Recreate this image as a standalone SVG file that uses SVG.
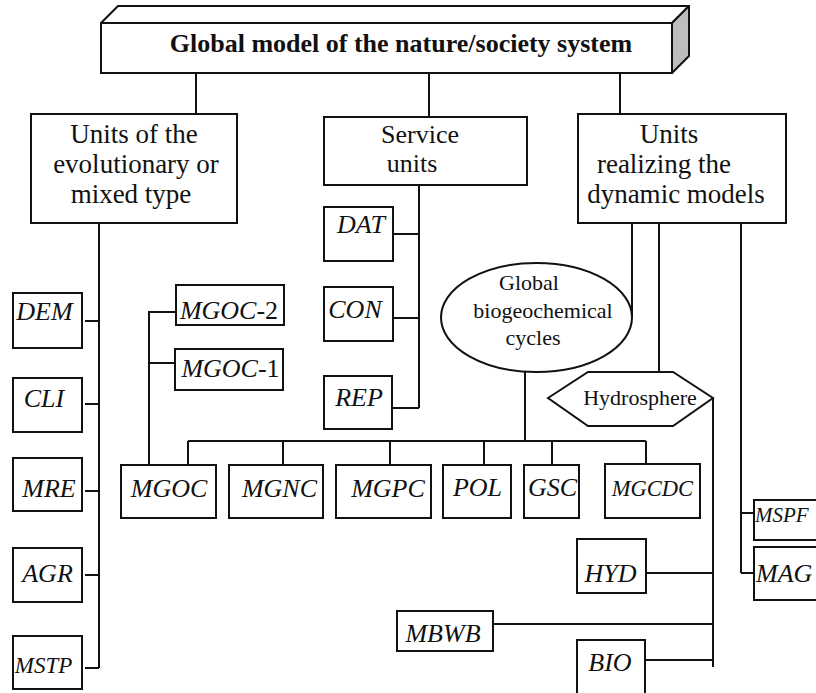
<svg xmlns="http://www.w3.org/2000/svg" width="816" height="693" viewBox="0 0 816 693">
<style>
.bx{fill:#fff;stroke:#111;stroke-width:2}
.ln{fill:none;stroke:#111;stroke-width:2}
.t{font-family:"Liberation Serif","Times New Roman",serif;fill:#111;text-anchor:middle}
.st{text-anchor:start}
.big{font-size:27px}
.it{font-size:26px;font-style:italic}
.up{font-style:normal}
</style>
<rect width="816" height="693" fill="#fff"/>
<g id="connectors">
<path class="ln" d="M196,73V114M429,73V117M620,73V114"/>
<path class="ln" d="M99,223V668M85,321H99M85,404H99M85,491H99M85,575H99M85,668H99"/>
<path class="ln" d="M419,185V408M393,234H419M393,318H419M392,408H419"/>
<path class="ln" d="M632,223V318M659,223V372M741,223V573M741,513H754M741,573H754"/>
<path class="ln" d="M525,363V441M188,441H646M188,441V465M283,441V465M390,441V465M484,441V465M552,441V465M646,441V464"/>
<path class="ln" d="M149,465V312H176M149,363H175"/>
<path class="ln" d="M713,398V667M646,573H713M493,624H713M645,660H713"/>
</g>
<g id="global">
<polygon points="101,23 118,6 689,6 672,23" fill="#fff" stroke="#111" stroke-width="2" stroke-linejoin="round"/>
<polygon points="672,23 689,6 689,56 672,73" fill="#bdbdbd" stroke="#111" stroke-width="2" stroke-linejoin="round"/>
<rect class="bx" x="101" y="23" width="571" height="50"/>
<text class="t" x="401" y="52" font-size="26" font-weight="bold">Global model of the nature/society system</text>
</g>
<g id="evolutionary">
<rect class="bx" x="31" y="114" width="206" height="109"/>
<text class="t big" x="134" y="143">Units of the</text>
<text class="t big" x="136" y="173">evolutionary or</text>
<text class="t big" x="131" y="203">mixed type</text>
</g>
<g id="service">
<rect class="bx" x="324" y="117" width="203" height="68"/>
<text class="t" x="420" y="143" font-size="26">Service</text>
<text class="t" x="412" y="172" font-size="26">units</text>
</g>
<g id="dynamic">
<rect class="bx" x="578" y="114" width="208" height="109"/>
<text class="t big" x="669" y="143">Units</text>
<text class="t big" x="664" y="173">realizing the</text>
<text class="t big" x="676" y="203">dynamic models</text>
</g>
<g id="DEM"><rect class="bx" x="13" y="293" width="69" height="55"/><text class="t it" x="44.5" y="320">DEM</text></g>
<g id="CLI"><rect class="bx" x="13" y="378" width="69" height="54"/><text class="t it" x="44" y="407">CLI</text></g>
<g id="MRE"><rect class="bx" x="13" y="458" width="69" height="53"/><text class="t it" x="49" y="497">MRE</text></g>
<g id="AGR"><rect class="bx" x="13" y="548" width="69" height="54"/><text class="t it" x="47.5" y="582">AGR</text></g>
<g id="MSTP"><rect class="bx" x="13" y="636" width="69" height="53"/><text class="t it" x="43.5" y="673" style="font-size:23px">MSTP</text></g>
<g id="DAT"><rect class="bx" x="324" y="207" width="69" height="54"/><text class="t it" x="361" y="233">DAT</text></g>
<g id="CON"><rect class="bx" x="324" y="287" width="69" height="54"/><text class="t it" x="355" y="318">CON</text></g>
<g id="REP"><rect class="bx" x="324" y="376" width="68" height="53"/><text class="t it" x="359" y="406">REP</text></g>
<g id="MGOC-2"><rect class="bx" x="176" y="285" width="108" height="40"/><text class="t it" x="229" y="319">MGOC<tspan class="up">-2</tspan></text></g>
<g id="MGOC-1"><rect class="bx" x="175" y="349" width="108" height="41"/><text class="t it" x="230.5" y="377">MGOC<tspan class="up">-1</tspan></text></g>
<g id="cycles">
<ellipse cx="536.5" cy="317.5" rx="95.5" ry="54.5" fill="#fff" stroke="#111" stroke-width="2"/>
<text class="t" x="529" y="290" font-size="22">Global</text>
<text class="t" x="543" y="318" font-size="22">biogeochemical</text>
<text class="t" x="533" y="345" font-size="22">cycles</text>
</g>
<g id="hydrosphere">
<polygon points="548,398 588,372 673,372 713,398 673,426 588,426" fill="#fff" stroke="#111" stroke-width="2"/>
<text class="t" x="640" y="405" font-size="22">Hydrosphere</text>
</g>
<g id="MGOC"><rect class="bx" x="121" y="465" width="95" height="53"/><text class="t it" x="169" y="497">MGOC</text></g>
<g id="MGNC"><rect class="bx" x="229" y="465" width="94" height="53"/><text class="t it" x="279.5" y="497">MGNC</text></g>
<g id="MGPC"><rect class="bx" x="336" y="465" width="95" height="53"/><text class="t it" x="388" y="497">MGPC</text></g>
<g id="POL"><rect class="bx" x="443" y="465" width="68" height="53"/><text class="t it" x="477.5" y="496">POL</text></g>
<g id="GSC"><rect class="bx" x="524" y="465" width="55" height="53"/><text class="t it" x="552.5" y="496">GSC</text></g>
<g id="MGCDC"><rect class="bx" x="605" y="464" width="95" height="54"/><text class="t it" x="652.5" y="496" style="font-size:22.5px">MGCDC</text></g>
<g id="HYD"><rect class="bx" x="577" y="539" width="69" height="54"/><text class="t it" x="610.5" y="582">HYD</text></g>
<g id="MBWB"><rect class="bx" x="397" y="611" width="96" height="40"/><text class="t it" x="443" y="642">MBWB</text></g>
<g id="BIO"><rect class="bx" x="577" y="640" width="68" height="60"/><text class="t it" x="610" y="671">BIO</text></g>
<g id="MSPF"><rect class="bx" x="754" y="500" width="80" height="40"/><text class="t it st" x="755" y="522" style="font-size:21px">MSPF</text></g>
<g id="MAG"><rect class="bx" x="754" y="547" width="80" height="53"/><text class="t it st" x="756" y="582">MAG</text></g>
</svg>
